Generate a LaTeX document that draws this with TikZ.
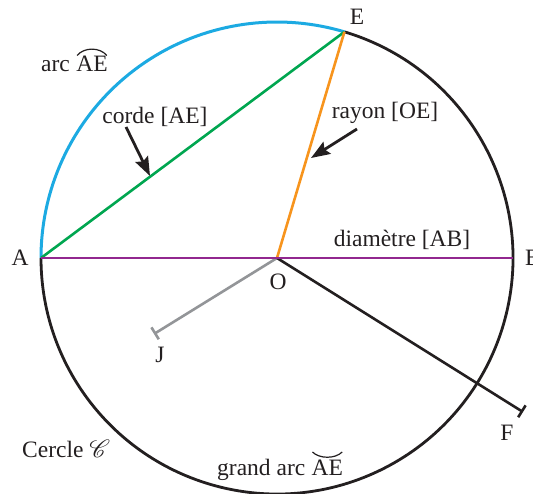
\documentclass[tikz,border=0pt]{standalone}
\usepackage{fontspec}
\setmainfont{Liberation Serif}
\usepackage{mathrsfs}
\usetikzlibrary{arrows.meta}
\definecolor{cblue}{RGB}{28,170,226}
\definecolor{cgreen}{RGB}{0,166,80}
\definecolor{corange}{RGB}{247,148,29}
\definecolor{cpurple}{RGB}{146,39,143}
\definecolor{cgray}{RGB}{147,149,152}
\definecolor{cblack}{RGB}{35,31,32}
\begin{document}
\begin{tikzpicture}[x=1pt,y=1pt,
  lbl/.style={font=\fontsize{23.5}{28}\selectfont, inner sep=0pt, text=cblack},
  seg/.style={line width=2.6pt},
  pointer/.style={cblack, line width=2.8pt, -{Stealth[length=19pt,width=14pt,inset=3pt]}},
  accent/.style={cblack, line width=1.2pt}]
\useasboundingbox (0,0) rectangle (533,493);
\coordinate (O) at (277,235);
\coordinate (A) at (41,235);
\coordinate (B) at (513,235);
\path (O) ++(73.4:236) coordinate (E);
\coordinate (J) at (154,159);
\coordinate (F) at (523,81);
% circle
\draw[cblack, line width=2.8pt] (E) arc[start angle=73.4, end angle=-180, radius=236];
\draw[cblue, line width=3pt] (A) arc[start angle=180, end angle=73.4, radius=236];
% segments
\draw[seg, cgray, -{Bar[width=14pt,line width=2.6pt]}] (O) -- (J);
\draw[seg, cblack, -{Bar[width=14pt,line width=2.6pt]}] (O) -- (F);
\draw[seg, cgreen] (A) -- (E);
\draw[seg, corange] (O) -- (E);
\draw[seg, cpurple] (A) -- (B);
% point labels
\node[lbl] (lE) at (357,476) {E};
\node[lbl] (lA) at (20,235) {A};
\node[lbl, anchor=west] (lB) at (525,235) {B};
\node[lbl] (lO) at (278,211) {O};
\node[lbl] (lJ) at (160,138) {J};
\node[lbl] (lF) at (507,60) {F};
% arc AE label
\node[lbl, anchor=base west] (tarc) at (41,421) {arc};
\node[lbl, anchor=base west] (tae1) at ([xshift=6pt]tarc.base east) {AE};
\draw[accent] ([xshift=1pt,yshift=16.5pt]tae1.base west) .. controls ([xshift=8pt,yshift=25pt]tae1.base west) and ([xshift=-8pt,yshift=25pt]tae1.base east) .. ([xshift=-1pt,yshift=16.5pt]tae1.base east);
% corde
\node[lbl] (tcorde) at (155,376) {corde [AE]};
\coordinate (c1) at (126,366);
\coordinate (c2) at (150,317);
\draw[pointer] (c1) -- (c2);
% rayon
\node[lbl] (trayon) at (385,380) {rayon [OE]};
\coordinate (r1) at (357,364);
\coordinate (r2) at (311,335);
\draw[pointer] (r1) -- (r2);
% diametre
\node[lbl] (tdiam) at (402,253) {diamètre [AB]};
% cercle
\node[lbl, anchor=base west] (tcercle) at (22,36) {Cercle $\mathscr{C}$};
% grand arc
\node[lbl, anchor=base west] (tgrand) at (217,18) {grand arc};
\node[lbl, anchor=base west] (tae2) at ([xshift=6pt]tgrand.base east) {AE};
\draw[accent] ([xshift=1pt,yshift=23pt]tae2.base west) .. controls ([xshift=8pt,yshift=16pt]tae2.base west) and ([xshift=-8pt,yshift=16pt]tae2.base east) .. ([xshift=-1pt,yshift=23pt]tae2.base east);
\end{tikzpicture}
\end{document}
